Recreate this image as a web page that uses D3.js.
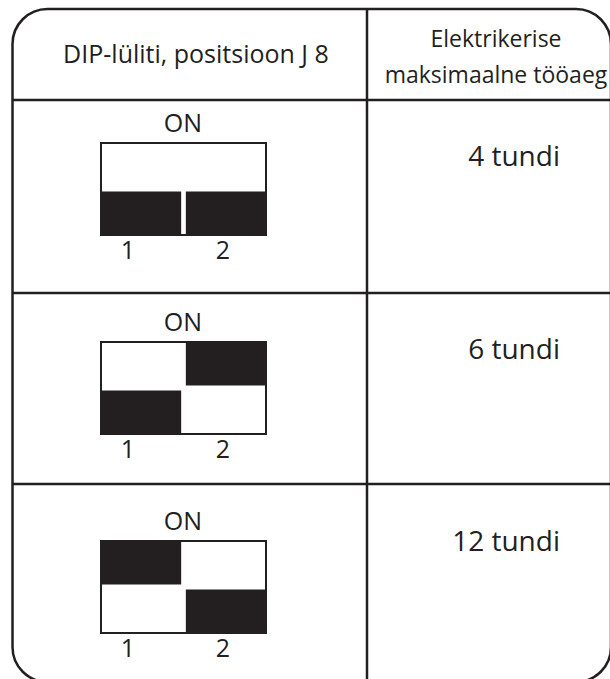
<!DOCTYPE html>
<html>
<head>
<meta charset="utf-8">
<script src="https://cdn.jsdelivr.net/npm/d3@7"></script>
<style>
  html, body { margin: 0; padding: 0; background: #ffffff; }
  svg { display: block; }
  text { font-family: "Open Sans", "Noto Sans", sans-serif; fill: #231f20; }
</style>
</head>
<body>
<div id="chart"></div>
<script>
// ---- data ----
const headerLeft = "DIP-lüliti, positsioon J 8";
const headerRight = ["Elektrikerise", "maksimaalne tööaeg"];
const durations = ["4 tundi", "6 tundi", "12 tundi"];
const switch1Up = [false, false, true];   // switch 1 lever in ON (upper) position
const switch2Up = [false, true, false];   // switch 2 lever in ON (upper) position
const switchLabels = ["1", "2"];
const onLabel = "ON";

// ---- layout ----
const W = 610, H = 679;
const ink = "#231f20";
const frame = { x0: 12.5, x1: 611, y0: 9, y1: 682, r: 35 };
const divX = 367;
const rowLines = [100, 293, 484];

const svg = d3.select("#chart").append("svg")
  .attr("width", W).attr("height", H);

// row index scales
const rowIdx = d3.range(durations.length);
const boxTop = d3.scaleLinear().domain([0, 2]).range([143, 541]);
const valueY = d3.scaleLinear().domain([0, 2]).range([166, 551]);

// switch column scale (within a switch box)
const swX = d3.scaleBand().domain([0, 1]).range([101, 266]).paddingInner(0.055);
const boxH = 92;
const leverH = 43.5;

// outer frame with rounded corners
svg.append("rect")
  .attr("x", frame.x0).attr("y", frame.y0)
  .attr("width", frame.x1 - frame.x0).attr("height", frame.y1 - frame.y0)
  .attr("rx", frame.r).attr("ry", frame.r)
  .attr("fill", "none").attr("stroke", ink).attr("stroke-width", 2.5);

// vertical divider
svg.append("line")
  .attr("x1", divX).attr("x2", divX).attr("y1", frame.y0).attr("y2", frame.y1)
  .attr("stroke", ink).attr("stroke-width", 2.5);

// horizontal row separators
svg.selectAll("line.row").data(rowLines).join("line")
  .attr("class", "row")
  .attr("x1", frame.x0).attr("x2", frame.x1)
  .attr("y1", d => d).attr("y2", d => d)
  .attr("stroke", ink).attr("stroke-width", 2.5);

// headers
svg.append("text")
  .attr("x", 196).attr("y", 63)
  .attr("text-anchor", "middle").attr("font-size", 25)
  .text(headerLeft);

svg.selectAll("text.hr").data(headerRight).join("text")
  .attr("class", "hr")
  .attr("x", 496).attr("y", (d, i) => 47 + i * 36)
  .attr("text-anchor", "middle").attr("font-size", 23)
  .text(d => d);

// durations
svg.selectAll("text.val").data(rowIdx).join("text")
  .attr("class", "val")
  .attr("x", 560).attr("y", i => valueY(i))
  .attr("text-anchor", "end").attr("font-size", 28)
  .text(i => durations[i]);

// switch diagrams
const sw = svg.selectAll("g.sw").data(rowIdx).join("g")
  .attr("class", "sw")
  .attr("transform", i => `translate(0,${boxTop(i)})`);

sw.append("text")
  .attr("x", 183).attr("y", -11)
  .attr("text-anchor", "middle").attr("font-size", 25)
  .text(onLabel);

sw.append("rect")
  .attr("x", swX.range()[0]).attr("y", 0)
  .attr("width", swX.range()[1] - swX.range()[0]).attr("height", boxH)
  .attr("fill", "#fff").attr("stroke", ink).attr("stroke-width", 2);

sw.selectAll("rect.lever")
  .data(i => [switch1Up[i], switch2Up[i]].map((up, k) => ({ up, k })))
  .join("rect")
  .attr("class", "lever")
  .attr("x", d => swX(d.k) - (d.k === 0 ? 1 : 0))
  .attr("width", d => swX.bandwidth() + 1)
  .attr("y", d => d.up ? -1 : boxH - leverH)
  .attr("height", leverH + 1)
  .attr("fill", ink);

sw.selectAll("text.lab")
  .data(switchLabels.map((t, k) => ({ t, k })))
  .join("text")
  .attr("class", "lab")
  .attr("x", d => d.k === 0 ? 128 : 223)
  .attr("y", boxH + 24)
  .attr("text-anchor", "middle").attr("font-size", 25)
  .text(d => d.t);
</script>
</body>
</html>
